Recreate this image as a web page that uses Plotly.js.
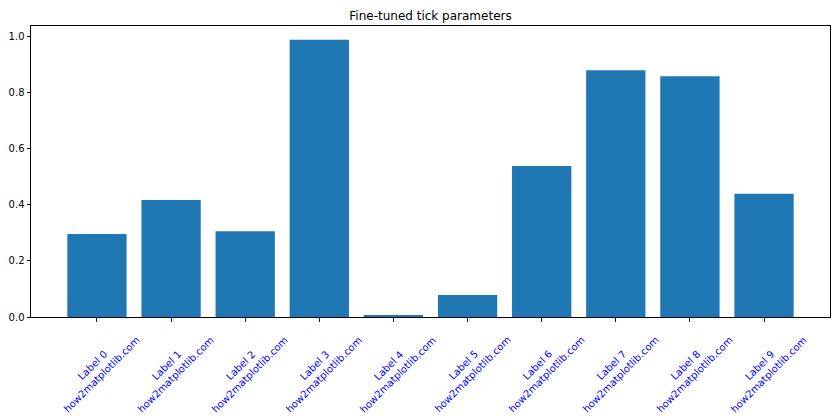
<!DOCTYPE html>
<html>
<head>
<meta charset="utf-8">
<script src="https://cdn.plot.ly/plotly-3.0.1.min.js"></script>
<style>body{margin:0;padding:0;background:#fff;}#chart{width:840px;height:420px;}</style>
</head>
<body>
<div id="chart"></div>
<script>
const categories = [0,1,2,3,4,5,6,7,8,9];
const values = [0.296, 0.417, 0.306, 0.988, 0.007, 0.078, 0.538, 0.880, 0.858, 0.439];
const tickLabels = categories.map(i => 'Label ' + i + '<br>how2matplotlib.com');

const trace = {
  type: 'bar',
  x: categories,
  y: values,
  width: 0.8,
  marker: {color: '#1f77b4'},
  hoverinfo: 'skip'
};

const annotations = categories.map((c, i) => ({
  x: c, xref: 'x',
  y: -0.182, yref: 'paper',
  xanchor: 'center', yanchor: 'middle',
  text: tickLabels[i],
  textangle: -45,
  showarrow: false,
  font: {family: 'DejaVu Sans', size: 10, color: 'blue'}
}));

const layout = {
  width: 840, height: 420,
  margin: {l: 31, r: 10, t: 26, b: 103, pad: 0},
  paper_bgcolor: '#fff', plot_bgcolor: '#fff',
  title: {text: 'Fine-tuned tick parameters', font: {family: 'DejaVu Sans', size: 12, color: '#000'}, x: 0.5125, xanchor: 'center', y: 0.962, yanchor: 'middle'},
  showlegend: false,
  annotations: annotations,
  xaxis: {
    range: [-0.89, 9.89],
    tickmode: 'array', tickvals: categories, showticklabels: false,
    ticks: 'outside', ticklen: 3.5, tickcolor: 'blue', tickwidth: 1,
    showgrid: false, zeroline: false,
    showline: true, linecolor: '#000', linewidth: 1, mirror: true
  },
  yaxis: {
    range: [0, 1.0374],
    tickvals: [0, 0.2, 0.4, 0.6, 0.8, 1.0],
    ticktext: ['0.0', '0.2', '0.4', '0.6', '0.8', '1.0'],
    ticks: 'outside', ticklen: 3.5, tickcolor: '#000', tickwidth: 1,
    tickfont: {family: 'DejaVu Sans', size: 10, color: '#000'},
    showgrid: false, zeroline: false,
    showline: true, linecolor: '#000', linewidth: 1, mirror: true
  }
};

Plotly.newPlot('chart', [trace], layout, {displayModeBar: false, staticPlot: true});
</script>
</body>
</html>
